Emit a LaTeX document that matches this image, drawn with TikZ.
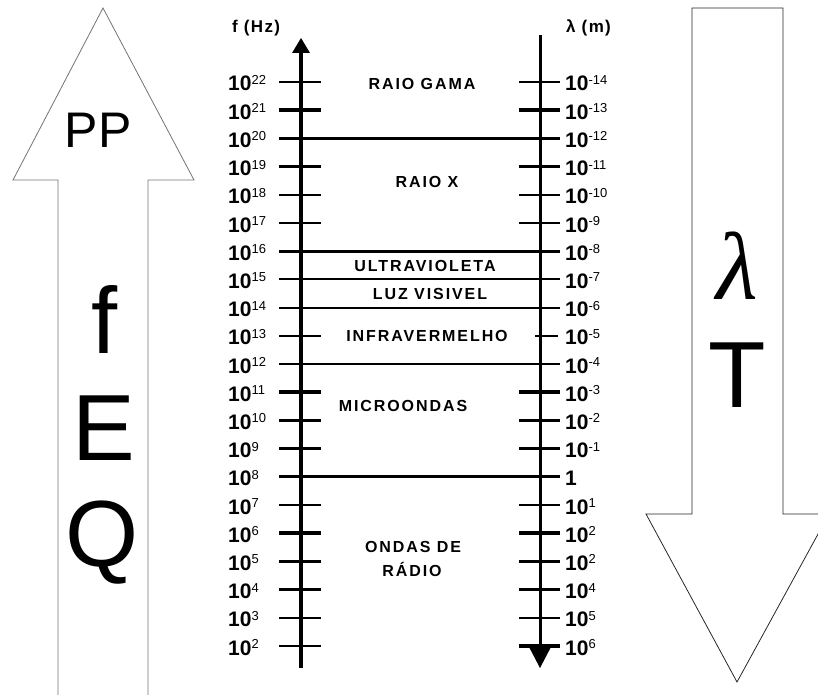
\documentclass[tikz,border=0pt]{standalone}
\usepackage{fontspec}
\setmainfont{Liberation Sans}
\newfontfamily\bandfont[LetterSpace=12]{Liberation Sans}
\newfontfamily\headfont[LetterSpace=8]{Liberation Sans}
\newfontfamily\lamfont{Liberation Serif}
\newcommand\tenpow[1]{10\raisebox{6.5pt}{\fontsize{13}{13}\mdseries\selectfont #1}}
\begin{document}
\begin{tikzpicture}[x=1pt,y=-1pt,
  num/.style={font=\fontsize{21}{21}\selectfont\bfseries, anchor=base west, inner sep=0pt},
  band/.style={font=\bandfont\fontsize{16}{16}\selectfont\bfseries, inner sep=0pt},
  head/.style={font=\headfont\fontsize{17}{17}\selectfont\bfseries, anchor=base west, inner sep=0pt},
  big/.style={font=\fontsize{94}{94}\selectfont, inner sep=0pt, anchor=base},
  outline/.style={draw=black!55, line width=0.8pt},
  thintick/.style={line width=2pt},
  thicktick/.style={line width=3.6pt},
  ]
\useasboundingbox (0,0) rectangle (818,695);
\clip (0,0) rectangle (818,695);

% big hollow arrows
\draw[outline] (58,695) -- (58,180) -- (13,180) -- (103,8) -- (194,180) -- (148,180) -- (148,695);
\draw[outline, draw=black!85] (692,514) -- (692,8) -- (783,8) -- (783,514) -- (829,514) -- (737,682) -- (646,514) -- cycle;

\node[big, font=\fontsize{50}{50}\selectfont] (pp) at (98,148) {PP};
\node[big] (fl) at (105,353) {f};
\node[big] (el) at (104,460) {E};
\node[big] (ql) at (102,566) {Q};
\node[big, font=\lamfont\fontsize{96}{96}\selectfont\itshape] (lam) at (737,299) {λ};
\node[big] (tl) at (737,407) {T};

% axis headings
\node[head] (fhz) at (232,33) {f (Hz)};
\node[head] (lm) at (566,33) {λ (m)};

% axes
\coordinate (ftop) at (301,38);
\coordinate (fbot) at (301,668);
\coordinate (ltop) at (540,35);
\coordinate (lbot) at (540,668);
\draw[line width=4pt] (fbot) -- (301,50);
\fill (292,53) -- (310,53) -- (ftop) -- cycle;
\draw[line width=3pt] (ltop) -- (540,648);
\fill (528,645) -- (552,645) -- (lbot) -- cycle;

% full band lines
\foreach \e/\w in {20/3.4pt, 16/3.4pt, 15/2pt, 14/2pt, 12/2.7pt, 8/2.7pt}
  \draw[line width=\w] (279,{82+(22-\e)*28.2}) -- (560,{82+(22-\e)*28.2});

% left ticks
\foreach \e/\s in {22/thintick, 21/thicktick, 19/thicktick, 18/thintick, 17/thintick, 13/thintick, 11/thicktick, 10/thicktick, 9/thicktick, 7/thintick, 6/thicktick, 5/thicktick, 4/thicktick, 3/thintick, 2/thintick}
  \draw[\s] (279,{82+(22-\e)*28.2}) -- (321,{82+(22-\e)*28.2});

% right ticks
\foreach \e/\s in {22/thintick, 21/thicktick, 19/thicktick, 18/thintick, 17/thintick, 11/thicktick, 10/thicktick, 9/thicktick, 7/thintick, 6/thicktick, 5/thicktick, 4/thicktick, 3/thintick, 2/thicktick}
  \draw[\s] (519,{82+(22-\e)*28.2}) -- (560,{82+(22-\e)*28.2});
\draw[thintick] (535,{82+9*28.2}) -- (558,{82+9*28.2});

% left labels
\foreach \e [count=\i from 0] in {22,21,...,2}
  \node[num] (f\e) at (228,{82+\i*28.2+9}) {\tenpow{\e}};

% right labels
\foreach \t [count=\i from 0] in {{\tenpow{-14}},{\tenpow{-13}},{\tenpow{-12}},{\tenpow{-11}},{\tenpow{-10}},{\tenpow{-9}},{\tenpow{-8}},{\tenpow{-7}},{\tenpow{-6}},{\tenpow{-5}},{\tenpow{-4}},{\tenpow{-3}},{\tenpow{-2}},{\tenpow{-1}},{1},{\tenpow{1}},{\tenpow{2}},{\tenpow{2}},{\tenpow{4}},{\tenpow{5}},{\tenpow{6}}}
  \node[num] (r\i) at (565,{82+\i*28.2+9}) {\t};

% band names
\node[band] (gama) at (422,84) {RAIO GAMA};
\node[band] (raiox) at (427,182) {RAIO X};
\node[band] (uv) at (425,266) {ULTRAVIOLETA};
\node[band] (luz) at (430,294) {LUZ VISIVEL};
\node[band] (ir) at (427,336) {INFRAVERMELHO};
\node[band] (micro) at (403,406) {MICROONDAS};
\node[band] (ondas) at (413,547) {ONDAS DE};
\node[band] (radio) at (412,569) {RÁDIO};
\end{tikzpicture}
\end{document}
